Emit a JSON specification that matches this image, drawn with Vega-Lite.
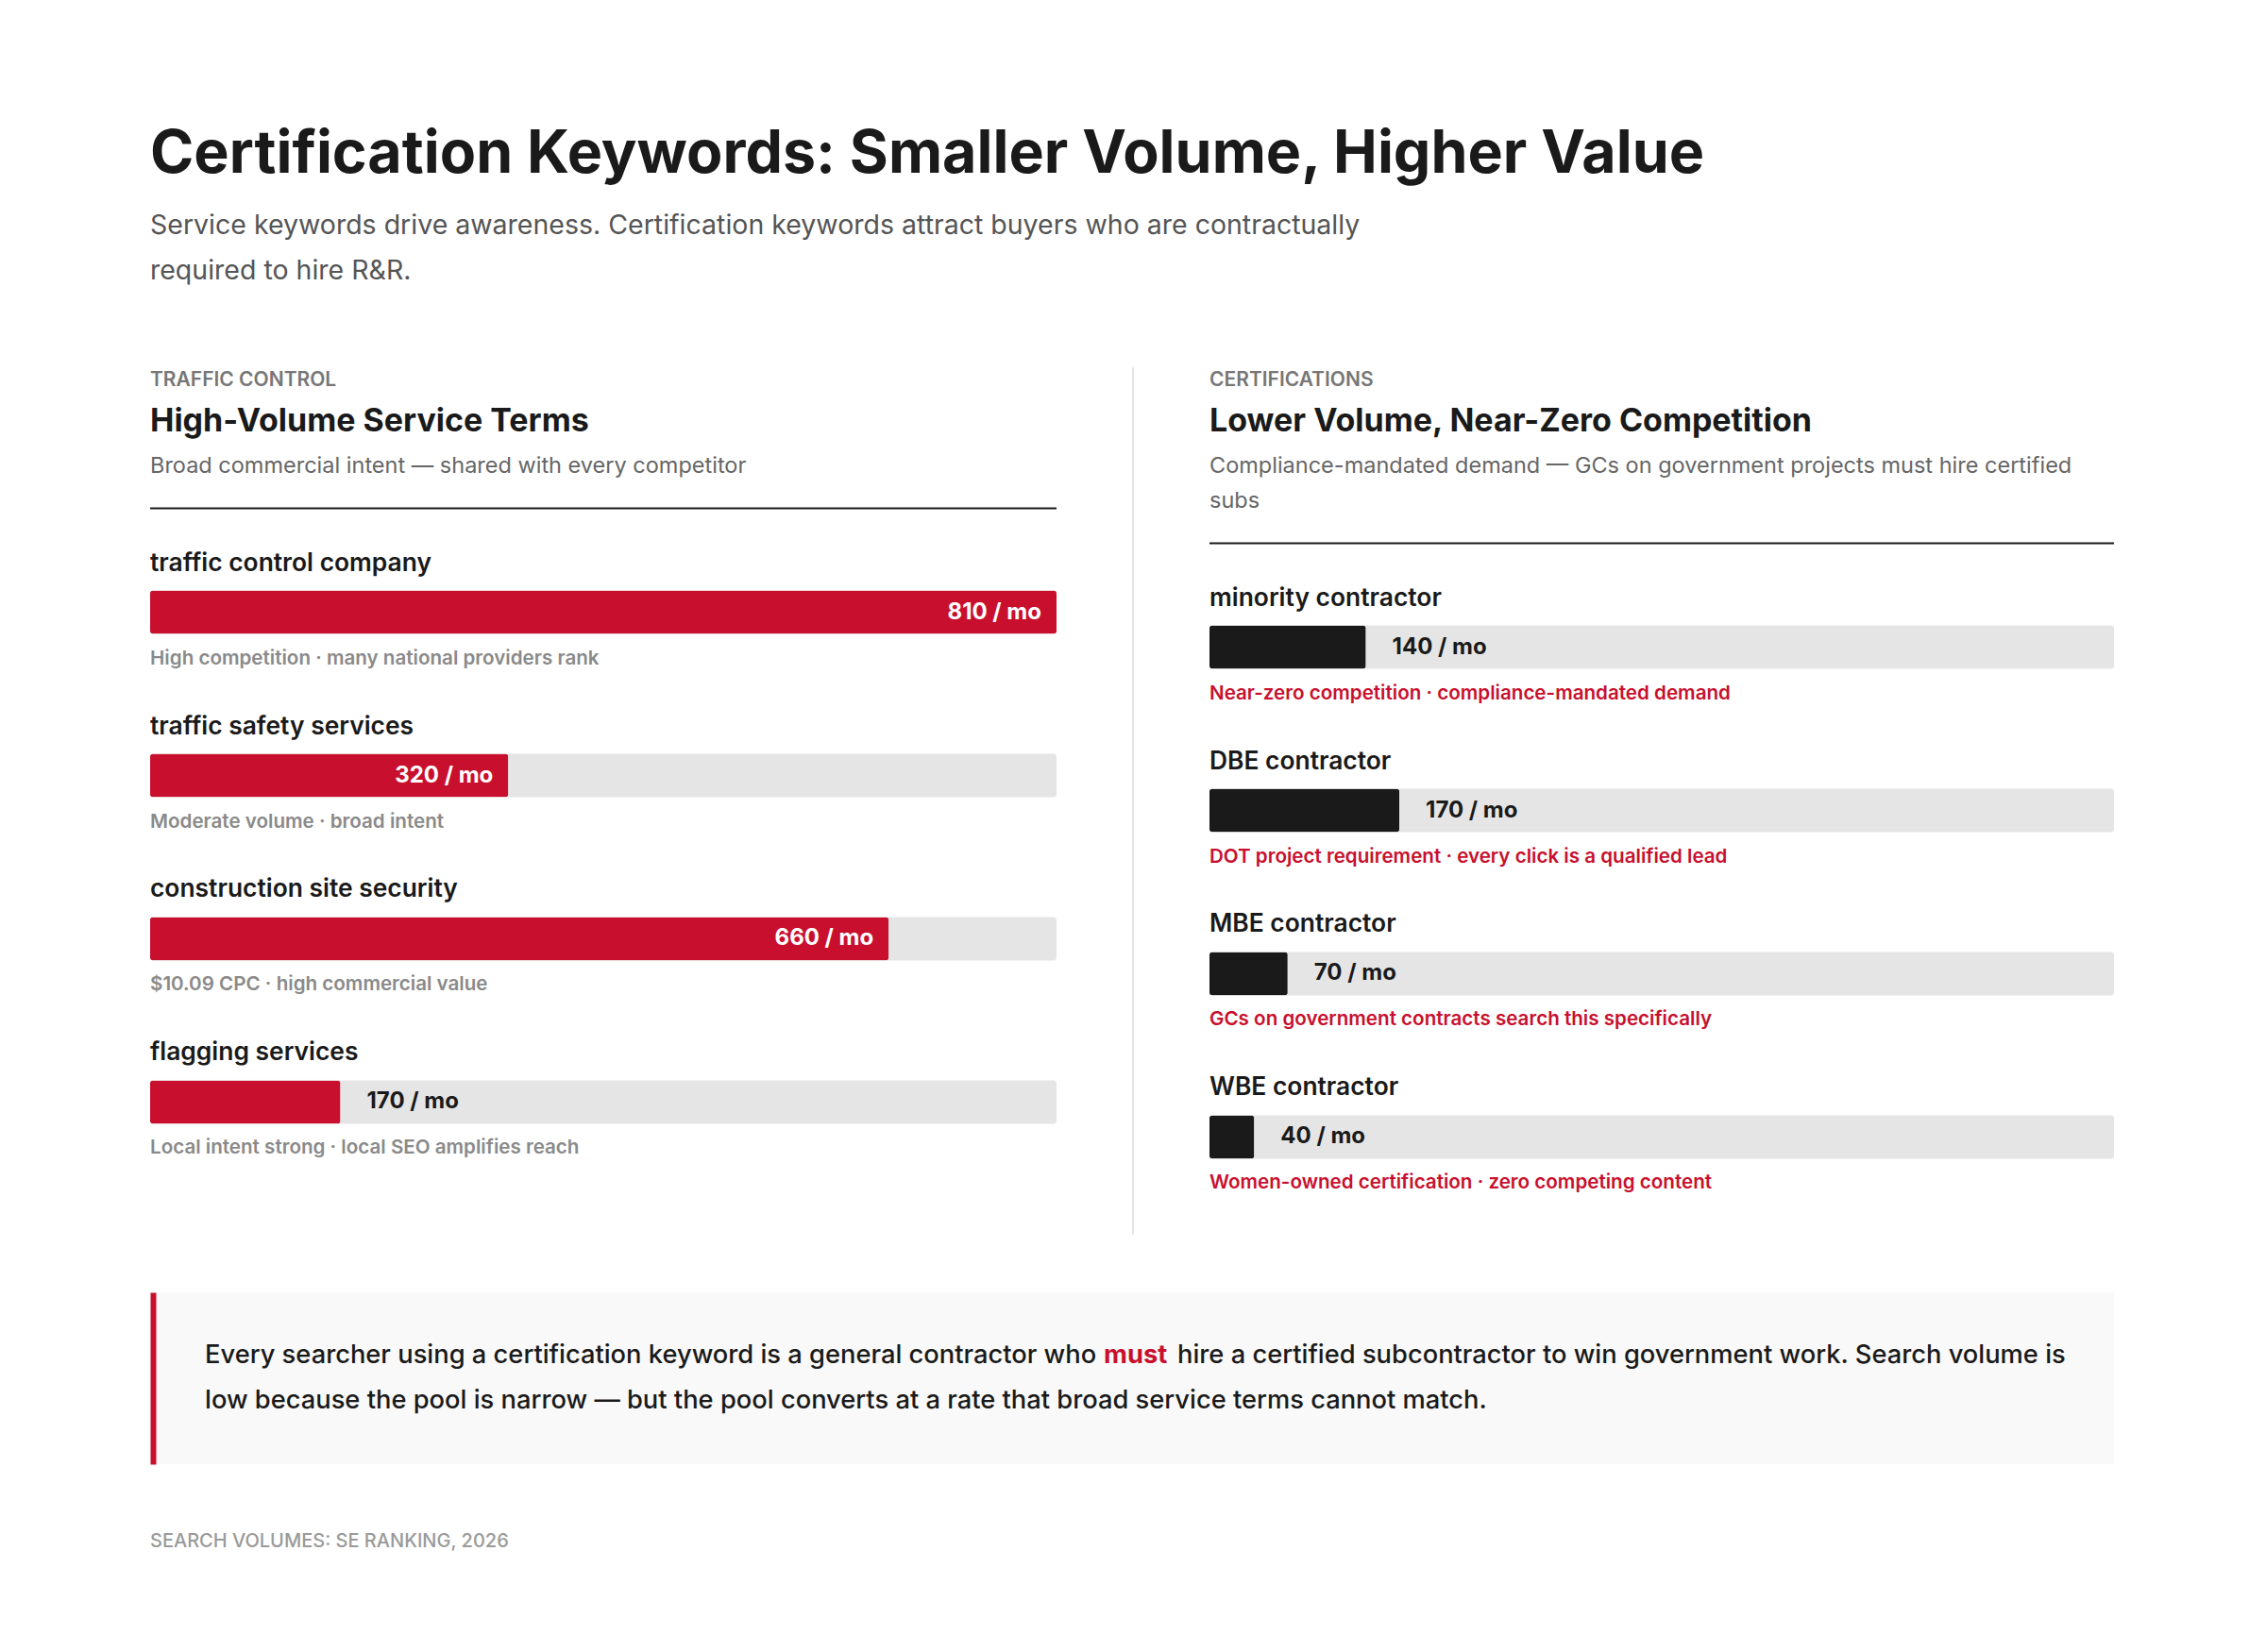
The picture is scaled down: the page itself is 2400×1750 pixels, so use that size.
{
  "$schema": "https://vega.github.io/schema/vega-lite/v6.json",
  "background": "#ffffff",
  "padding": {"left": 158, "top": 132, "right": 161, "bottom": 100},
  "config": {
    "view": {"stroke": null},
    "font": "Inter",
    "concat": {"spacing": 60}
  },
  "title": {
    "text": "Certification Keywords: Smaller Volume, Higher Value",
    "subtitle": [
      "Service keywords drive awareness. Certification keywords attract buyers who are contractually",
      "required to hire R&R."
    ],
    "anchor": "start",
    "frame": "group",
    "font": "Inter",
    "fontSize": 62.7,
    "fontWeight": 700,
    "color": "#1a1a1a",
    "subtitleFont": "Inter",
    "subtitleFontSize": 28.5,
    "subtitleFontWeight": 400,
    "subtitleColor": "#555555",
    "subtitleLineHeight": 48,
    "subtitlePadding": 30,
    "offset": 86
  },
  "datasets": {
    "service": [
      {"keyword": "traffic control company", "volume": 810, "note": "High competition · many national providers rank"},
      {"keyword": "traffic safety services", "volume": 320, "note": "Moderate volume · broad intent"},
      {"keyword": "construction site security", "volume": 660, "note": "$10.09 CPC · high commercial value"},
      {"keyword": "flagging services", "volume": 170, "note": "Local intent strong · local SEO amplifies reach"}
    ],
    "certification": [
      {"keyword": "minority contractor", "volume": 140, "note": "Near-zero competition · compliance-mandated demand"},
      {"keyword": "DBE contractor", "volume": 170, "note": "DOT project requirement · every click is a qualified lead"},
      {"keyword": "MBE contractor", "volume": 70, "note": "GCs on government contracts search this specifically"},
      {"keyword": "WBE contractor", "volume": 40, "note": "Women-owned certification · zero competing content"}
    ],
    "takeaway": [
      {"line": 1, "part": "lead", "text": "Every searcher using a certification keyword is a general contractor who"},
      {"line": 1, "part": "emphasis", "text": "must"},
      {"line": 1, "part": "rest", "text": "hire a certified subcontractor to win government work. Search volume is"},
      {"line": 2, "part": "lead", "text": "low because the pool is narrow — but the pool converts at a rate that broad service terms cannot match."}
    ]
  },
  "vconcat": [
    {
      "spacing": 79,
      "hconcat": [
        {
          "spacing": 32.5,
          "vconcat": [
            {
              "width": 960,
              "height": 26,
              "title": {
                "text": "High-Volume Service Terms",
                "subtitle": "Broad commercial intent — shared with every competitor",
                "orient": "bottom",
                "anchor": "start",
                "font": "Inter", "fontSize": 34, "fontWeight": 700, "color": "#1a1a1a",
                "subtitleFont": "Inter", "subtitleFontSize": 23.5, "subtitleFontWeight": 400, "subtitleColor": "#666666",
                "subtitleLineHeight": 37, "subtitlePadding": 17.5, "offset": 15
              },
              "data": {"values": [{"kicker": "TRAFFIC CONTROL"}]},
              "mark": {"type": "text", "align": "left", "baseline": "middle", "dy": 1, "font": "Inter", "fontSize": 21, "fontWeight": 600, "color": "#777777"},
              "encoding": {
                "x": {"datum": 0, "type": "quantitative", "scale": {"domain": [0, 1]}, "axis": null},
                "text": {"field": "kicker"}
              }
            },
            {
              "width": 960,
              "height": 2,
              "data": {"values": [{}]},
              "mark": {"type": "rule", "color": "#1a1a1a", "strokeWidth": 2},
              "encoding": {
                "x": {"datum": 0, "type": "quantitative", "scale": {"domain": [0, 1]}, "axis": null},
                "x2": {"datum": 1}
              }
            },
            {
              "width": 960,
              "height": 672,
              "data": {"name": "service"},
              "encoding": {
                "y": {"field": "keyword", "type": "nominal", "sort": null, "axis": null, "scale": {"paddingInner": 0.1156, "paddingOuter": 0}}
              },
              "layer": [
                {
                  "mark": {"type": "bar", "color": "#e5e5e5", "cornerRadius": 3, "height": 46},
                  "encoding": {
                    "x": {"datum": 810, "type": "quantitative", "scale": {"domain": [0, 810], "nice": false}, "axis": null}
                  }
                },
                {
                  "mark": {"type": "bar", "color": "#c8102e", "cornerRadius": 3, "height": 46},
                  "encoding": {"x": {"field": "volume", "type": "quantitative", "axis": null}}
                },
                {
                  "transform": [{"filter": "datum.volume >= 300"}, {"calculate": "datum.volume + ' / mo'", "as": "label"}],
                  "mark": {"type": "text", "align": "right", "baseline": "middle", "dx": -16, "font": "Inter", "fontSize": 24, "fontWeight": 700, "color": "#ffffff"},
                  "encoding": {"x": {"field": "volume", "type": "quantitative", "axis": null}, "text": {"field": "label"}}
                },
                {
                  "transform": [{"filter": "datum.volume < 300"}, {"calculate": "datum.volume + ' / mo'", "as": "label"}],
                  "mark": {"type": "text", "align": "left", "baseline": "middle", "dx": 28, "font": "Inter", "fontSize": 24, "fontWeight": 700, "color": "#1a1a1a"},
                  "encoding": {"x": {"field": "volume", "type": "quantitative", "axis": null}, "text": {"field": "label"}}
                },
                {
                  "mark": {"type": "text", "align": "left", "baseline": "middle", "dy": -52, "font": "Inter", "fontSize": 26.4, "fontWeight": 600, "color": "#1a1a1a"},
                  "encoding": {"x": {"datum": 0, "type": "quantitative", "axis": null}, "text": {"field": "keyword"}}
                },
                {
                  "mark": {"type": "text", "align": "left", "baseline": "middle", "dy": 49, "font": "Inter", "fontSize": 20.6, "fontWeight": 600, "color": "#8a8a8a"},
                  "encoding": {"x": {"datum": 0, "type": "quantitative", "axis": null}, "text": {"field": "note"}}
                }
              ]
            }
          ]
        },
        {
          "width": 1,
          "height": 919,
          "data": {"values": [{}]},
          "mark": {"type": "rule", "color": "#e5e5e5", "strokeWidth": 2},
          "encoding": {
            "x": {"datum": 0, "type": "quantitative", "scale": {"domain": [0, 1]}, "axis": null}
          }
        },
        {
          "spacing": 32.5,
          "vconcat": [
            {
              "width": 958,
              "height": 26,
              "title": {
                "text": "Lower Volume, Near-Zero Competition",
                "subtitle": ["Compliance-mandated demand — GCs on government projects must hire certified", "subs"],
                "orient": "bottom",
                "anchor": "start",
                "font": "Inter", "fontSize": 34, "fontWeight": 700, "color": "#1a1a1a",
                "subtitleFont": "Inter", "subtitleFontSize": 23.5, "subtitleFontWeight": 400, "subtitleColor": "#666666",
                "subtitleLineHeight": 37, "subtitlePadding": 17.5, "offset": 15
              },
              "data": {"values": [{"kicker": "CERTIFICATIONS"}]},
              "mark": {"type": "text", "align": "left", "baseline": "middle", "dy": 1, "font": "Inter", "fontSize": 21, "fontWeight": 600, "color": "#777777"},
              "encoding": {
                "x": {"datum": 0, "type": "quantitative", "scale": {"domain": [0, 1]}, "axis": null},
                "text": {"field": "kicker"}
              }
            },
            {
              "width": 958,
              "height": 2,
              "data": {"values": [{}]},
              "mark": {"type": "rule", "color": "#1a1a1a", "strokeWidth": 2},
              "encoding": {
                "x": {"datum": 0, "type": "quantitative", "scale": {"domain": [0, 1]}, "axis": null},
                "x2": {"datum": 1}
              }
            },
            {
              "width": 958,
              "height": 672,
              "data": {"name": "certification"},
              "encoding": {
                "y": {"field": "keyword", "type": "nominal", "sort": null, "axis": null, "scale": {"paddingInner": 0.1156, "paddingOuter": 0}}
              },
              "layer": [
                {
                  "mark": {"type": "bar", "color": "#e5e5e5", "cornerRadius": 3, "height": 46},
                  "encoding": {
                    "x": {"datum": 810, "type": "quantitative", "scale": {"domain": [0, 810], "nice": false}, "axis": null}
                  }
                },
                {
                  "mark": {"type": "bar", "color": "#1a1a1a", "cornerRadius": 3, "height": 46},
                  "encoding": {"x": {"field": "volume", "type": "quantitative", "axis": null}}
                },
                {
                  "transform": [{"filter": "datum.volume >= 300"}, {"calculate": "datum.volume + ' / mo'", "as": "label"}],
                  "mark": {"type": "text", "align": "right", "baseline": "middle", "dx": -16, "font": "Inter", "fontSize": 24, "fontWeight": 700, "color": "#ffffff"},
                  "encoding": {"x": {"field": "volume", "type": "quantitative", "axis": null}, "text": {"field": "label"}}
                },
                {
                  "transform": [{"filter": "datum.volume < 300"}, {"calculate": "datum.volume + ' / mo'", "as": "label"}],
                  "mark": {"type": "text", "align": "left", "baseline": "middle", "dx": 28, "font": "Inter", "fontSize": 24, "fontWeight": 700, "color": "#1a1a1a"},
                  "encoding": {"x": {"field": "volume", "type": "quantitative", "axis": null}, "text": {"field": "label"}}
                },
                {
                  "mark": {"type": "text", "align": "left", "baseline": "middle", "dy": -52, "font": "Inter", "fontSize": 26.4, "fontWeight": 600, "color": "#1a1a1a"},
                  "encoding": {"x": {"datum": 0, "type": "quantitative", "axis": null}, "text": {"field": "keyword"}}
                },
                {
                  "mark": {"type": "text", "align": "left", "baseline": "middle", "dy": 49, "font": "Inter", "fontSize": 20.6, "fontWeight": 600, "color": "#c8102e"},
                  "encoding": {"x": {"datum": 0, "type": "quantitative", "axis": null}, "text": {"field": "note"}}
                }
              ]
            }
          ]
        }
      ]
    },
    {
      "width": 2080,
      "height": 182,
      "view": {"fill": "#f9f9f9", "stroke": null},
      "title": {"text": "SEARCH VOLUMES: SE RANKING, 2026", "orient": "bottom", "anchor": "start", "offset": 72, "font": "Inter", "fontSize": 20, "fontWeight": 500, "color": "#9a9a9a"},
      "data": {"name": "takeaway"},
      "encoding": {
        "y": {"field": "line", "type": "ordinal", "scale": {"type": "band", "paddingInner": 0, "paddingOuter": 0.896},
          "axis": {"orient": "left", "domain": true, "domainColor": "#c8102e", "domainWidth": 6, "offset": -3, "ticks": false, "labels": false, "grid": false, "title": null}},
        "x": {"datum": 0, "type": "quantitative", "scale": {"domain": [0, 1]}, "axis": null},
        "text": {"field": "text"}
      },
      "layer": [
        {
          "transform": [{"filter": "datum.part == 'lead'"}],
          "mark": {"type": "text", "align": "left", "baseline": "middle", "dx": 58, "font": "Inter", "fontSize": 27.3, "fontWeight": 500, "color": "#1a1a1a"}
        },
        {
          "transform": [{"filter": "datum.part == 'emphasis'"}],
          "mark": {"type": "text", "align": "left", "baseline": "middle", "dx": 1010, "font": "Inter", "fontSize": 27.3, "fontWeight": 700, "color": "#c8102e"}
        },
        {
          "transform": [{"filter": "datum.part == 'rest'"}],
          "mark": {"type": "text", "align": "left", "baseline": "middle", "dx": 1088, "font": "Inter", "fontSize": 27.3, "fontWeight": 500, "color": "#1a1a1a"}
        }
      ]
    }
  ]
}
